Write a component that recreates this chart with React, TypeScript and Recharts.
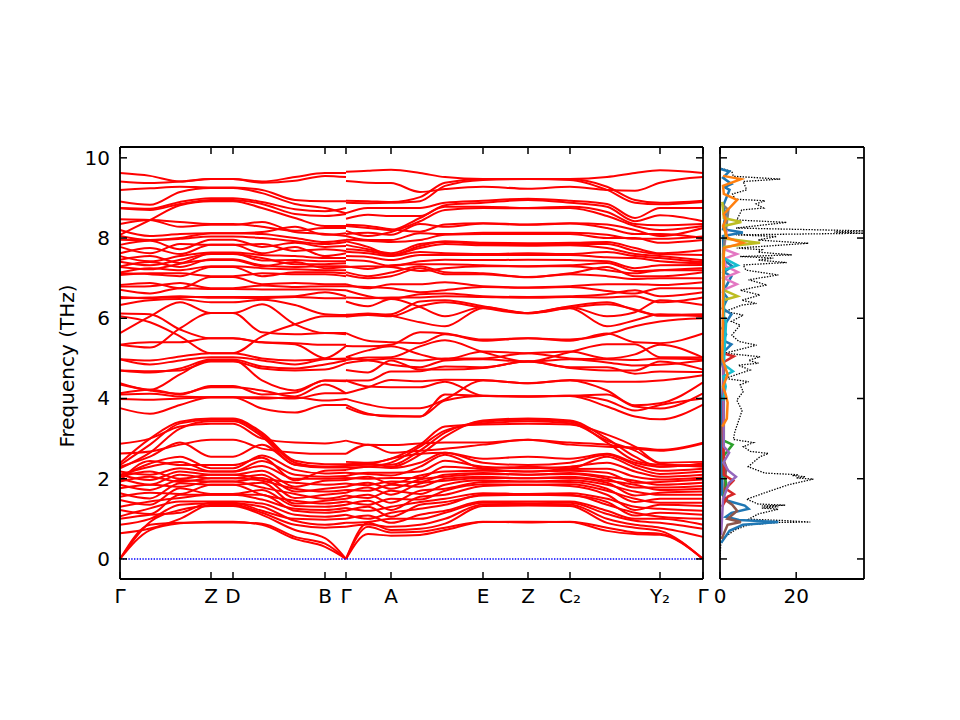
import React from "react";
import { LineChart, Line, XAxis, YAxis, ReferenceLine } from "recharts";

const pathTickPositions = [0, 91, 113, 205, 226, 271, 363, 408, 450, 540, 583];
const pathTickLabels = ["Γ", "Z", "D", "B", "Γ", "A", "E", "Z", "C₂", "Y₂", "Γ"];
const freqTicks = [0, 2, 4, 6, 8, 10];
const dosTicks = [0, 20];

const leftDistances = [0, 30, 60, 91, 113, 142, 175, 205, 226];
const rightDistances = [226, 248, 271, 300, 325, 363, 408, 450, 487, 515, 540, 583];

const leftUpperBands = [
  [9.62,9.55,9.41,9.47,9.47,9.41,9.52,9.62,9.62],
  [9.41,9.37,9.41,9.47,9.47,9.38,9.43,9.55,9.52],
  [9.20,9.24,9.28,9.26,9.26,9.20,8.95,8.92,8.92],
  [8.91,8.83,9.15,9.25,9.25,9.12,8.85,8.75,8.62],
  [8.75,8.73,8.90,8.99,8.99,8.90,8.72,8.67,8.75],
  [8.74,8.70,8.85,8.95,8.95,8.85,8.60,8.55,8.60],
  [8.08,8.45,8.82,8.92,8.92,8.75,8.50,8.30,8.30],
  [8.47,8.45,8.28,8.33,8.33,8.40,8.15,8.10,8.05],
  [8.35,8.45,8.40,8.35,8.35,8.28,8.18,8.25,8.25],
  [8.20,8.05,8.10,8.12,8.12,8.15,8.28,8.08,8.12],
  [8.05,7.95,8.00,8.12,8.12,8.10,8.00,7.90,7.95],
  [7.96,7.95,7.98,8.04,8.04,8.00,7.92,7.85,7.90],
  [7.83,7.93,7.72,7.96,7.96,7.78,7.88,7.78,7.80],
  [7.78,7.62,7.85,7.83,7.83,7.85,7.68,7.72,7.68],
  [7.62,7.75,7.60,7.83,7.83,7.62,7.78,7.55,7.62],
  [7.55,7.42,7.55,7.64,7.64,7.58,7.55,7.50,7.50],
  [7.46,7.55,7.38,7.62,7.62,7.44,7.45,7.42,7.42],
  [7.41,7.32,7.46,7.60,7.60,7.50,7.35,7.35,7.37],
  [7.29,7.40,7.28,7.47,7.47,7.32,7.28,7.30,7.30],
  [7.28,7.22,7.36,7.45,7.45,7.30,7.40,7.25,7.28],
  [7.14,7.25,7.20,7.30,7.30,7.25,7.22,7.20,7.20],
  [7.12,7.10,7.05,7.28,7.28,7.05,7.15,7.15,7.12],
  [7.08,7.12,7.12,7.05,7.05,7.12,7.10,7.10,7.05],
  [6.83,6.88,6.75,7.03,7.03,6.85,6.88,6.85,6.85],
  [6.79,6.80,6.88,6.75,6.75,6.82,6.78,6.80,6.80],
  [6.71,6.62,6.75,6.73,6.73,6.72,6.72,6.72,6.70],
  [6.53,6.50,6.53,6.53,6.53,6.53,6.55,6.65,6.55],
  [6.50,6.52,6.55,6.51,6.51,6.50,6.53,6.50,6.50],
  [6.33,6.45,6.48,6.40,6.40,6.46,6.33,6.10,6.08],
];

const leftMiddleBands = [
  [5.63,6.05,6.40,6.13,6.13,6.35,5.85,5.63,5.63],
  [6.12,6.10,5.72,5.50,5.50,5.40,5.35,5.00,4.98],
  [6.05,5.90,5.55,5.13,5.13,5.55,5.85,6.05,6.05],
  [5.34,5.27,5.75,6.13,6.13,5.65,5.60,5.63,5.60],
  [5.34,5.40,5.40,5.50,5.50,5.40,5.38,5.34,5.34],
  [4.98,4.95,5.05,5.13,5.13,5.00,4.95,5.00,5.31],
  [4.98,4.85,4.95,5.03,5.03,4.95,4.85,4.98,5.00],
  [4.70,4.65,4.75,4.97,4.97,4.80,4.75,4.85,4.95],
  [4.70,4.68,4.70,4.92,4.92,4.75,4.70,4.72,4.88],
  [4.38,4.22,4.60,4.96,4.96,4.45,4.20,4.45,4.45],
  [4.13,4.22,4.10,4.31,4.31,4.10,4.15,4.45,4.43],
  [4.35,4.20,4.12,4.28,4.28,4.20,4.05,4.35,4.13],
  [3.99,3.97,4.00,4.03,4.03,4.03,4.00,4.13,4.13],
  [4.10,4.12,4.05,4.03,4.03,4.00,4.03,3.95,3.99],
  [3.76,3.62,3.84,4.03,4.03,3.75,3.65,3.84,3.84],
];

const leftLowerBands = [
  [0,.72,.89,.93,.93,.85,.50,.30,0],
  [0,.85,.90,.91,.91,.88,.55,.38,0],
  [0,.92,1.22,1.32,1.32,1.10,.72,.52,0],
  [.64,.76,1.00,1.35,1.35,1.15,.85,.78,.80],
  [.85,1.00,1.35,1.38,1.38,1.30,.95,.85,.90],
  [1.00,1.10,1.15,1.40,1.40,1.20,1.00,.98,1.00],
  [1.06,1.26,1.43,1.43,1.43,1.38,1.10,1.05,1.10],
  [1.22,1.12,1.60,1.60,1.60,1.60,1.20,1.15,1.20],
  [1.30,1.43,1.52,1.60,1.60,1.48,1.25,1.22,1.27],
  [1.47,1.35,1.76,1.62,1.62,1.72,1.32,1.30,1.35],
  [1.55,1.65,1.62,1.85,1.85,1.60,1.45,1.38,1.43],
  [1.64,1.51,1.89,1.85,1.85,1.90,1.38,1.45,1.50],
  [1.76,1.85,1.80,1.93,1.93,1.78,1.62,1.50,1.58],
  [1.85,1.72,1.97,1.93,1.93,2.02,1.52,1.60,1.65],
  [1.93,2.05,1.92,2.01,2.01,1.95,1.75,1.68,1.72],
  [2.01,1.85,2.10,2.01,2.01,2.10,1.68,1.75,1.80],
  [2.05,2.18,2.00,2.10,2.10,2.00,1.90,1.85,1.88],
  [2.10,1.97,2.18,2.10,2.10,2.20,1.80,1.95,1.97],
  [2.18,2.10,2.26,2.18,2.18,2.32,2.00,2.00,2.02],
  [2.10,2.30,2.42,2.18,2.18,2.44,2.10,2.05,2.07],
  [2.05,2.38,2.55,2.26,2.26,2.58,2.22,2.13,2.15],
  [1.95,2.44,2.34,2.34,2.34,2.52,1.96,2.20,2.22],
  [2.39,3.00,3.42,3.50,3.50,3.15,2.45,2.36,2.36],
  [2.34,2.85,3.38,3.47,3.47,3.10,2.40,2.30,2.32],
  [2.26,2.65,3.25,3.43,3.43,3.05,2.35,2.28,2.28],
  [2.87,3.00,3.30,3.37,3.37,3.00,2.90,2.88,2.95],
  [2.63,2.68,2.85,2.97,2.97,2.75,2.65,2.62,2.62],
  [2.30,2.55,2.90,2.55,2.55,2.85,2.35,2.30,2.30],
];

const rightUpperBands = [
  [9.65,9.68,9.70,9.62,9.52,9.47,9.47,9.47,9.52,9.62,9.69,9.62],
  [9.42,9.38,9.37,9.15,9.22,9.28,9.23,9.28,9.20,9.18,9.38,9.52],
  [8.93,8.92,8.90,9.02,9.38,9.47,9.47,9.47,9.28,8.95,8.88,8.93],
  [8.88,8.87,8.88,8.92,9.30,9.45,9.47,9.45,9.20,8.88,8.84,8.90],
  [8.62,8.75,8.75,8.75,8.88,8.93,8.98,8.93,8.85,8.50,8.75,8.75],
  [8.48,8.58,8.55,8.55,8.82,8.88,8.95,8.88,8.78,8.42,8.57,8.42],
  [8.30,8.25,8.20,8.50,8.78,8.78,8.75,8.78,8.65,8.35,8.32,8.35],
  [8.18,8.05,8.15,8.42,8.70,8.75,8.74,8.75,8.55,8.30,8.20,8.30],
  [8.33,8.30,8.22,8.16,8.34,8.37,8.34,8.37,8.34,8.20,8.05,8.25],
  [8.10,8.13,8.08,8.35,8.28,8.36,8.33,8.36,8.25,8.10,8.10,8.00],
  [8.05,7.95,7.95,8.12,8.10,8.13,8.13,8.13,8.08,7.98,7.98,8.04],
  [7.96,7.93,7.90,7.95,8.08,8.10,8.10,8.10,8.00,8.00,7.88,7.95],
  [7.92,7.78,7.58,7.80,7.92,7.88,7.87,7.88,7.90,7.75,7.62,7.70],
  [7.83,7.72,7.62,7.85,7.90,7.85,7.85,7.85,7.85,7.68,7.60,7.58],
  [7.72,7.68,7.58,7.75,7.85,7.82,7.81,7.82,7.75,7.60,7.55,7.45],
  [7.66,7.62,7.55,7.65,7.62,7.60,7.62,7.60,7.65,7.55,7.50,7.40],
  [7.55,7.53,7.45,7.58,7.58,7.58,7.58,7.58,7.52,7.50,7.42,7.37],
  [7.45,7.42,7.30,7.42,7.46,7.45,7.46,7.45,7.42,7.25,7.32,7.33],
  [7.30,7.23,7.32,7.35,7.35,7.32,7.30,7.32,7.38,7.18,7.20,7.25],
  [7.28,7.30,7.28,7.18,7.25,7.30,7.29,7.30,7.20,7.12,7.20,7.20],
  [7.15,7.05,7.14,7.30,7.15,7.12,7.03,7.12,7.28,7.05,7.05,7.15],
  [7.08,7.00,7.05,7.25,7.10,7.10,7.02,7.10,7.05,6.98,7.00,7.00],
  [6.85,6.75,6.85,6.85,6.90,6.80,6.77,6.80,6.85,6.85,6.83,6.90],
  [6.80,6.78,6.75,6.65,6.70,6.78,6.76,6.78,6.68,6.62,6.75,6.75],
  [6.70,6.55,6.48,6.60,6.62,6.55,6.53,6.55,6.60,6.70,6.55,6.65],
  [6.52,6.50,6.52,6.52,6.55,6.53,6.51,6.53,6.52,6.55,6.40,6.52],
];

const rightMiddleBands = [
  [6.42,6.30,6.48,6.28,6.05,6.28,6.13,6.28,6.05,6.15,6.45,6.33],
  [6.09,6.08,6.10,6.42,6.45,6.30,6.13,6.30,6.40,6.20,6.08,6.10],
  [6.08,6.12,6.06,5.90,5.80,6.25,6.13,6.25,5.80,5.95,6.10,6.05],
  [6.04,6.08,6.05,6.30,6.40,6.26,6.12,6.26,6.35,6.22,6.06,6.08],
  [5.63,5.44,5.40,5.38,5.60,5.44,5.50,5.44,5.62,5.40,5.38,5.62],
  [5.31,5.30,5.34,5.65,5.62,5.47,5.50,5.47,5.60,5.80,5.92,6.00],
  [5.03,5.20,5.30,5.10,4.98,5.17,5.13,5.17,5.00,5.10,5.34,5.02],
  [4.96,5.02,5.03,5.30,5.45,5.16,4.92,5.16,5.35,5.35,5.03,5.02],
  [5.02,4.96,5.00,4.95,5.00,5.00,5.13,5.00,4.98,4.96,5.00,4.98],
  [4.88,4.95,4.84,4.78,4.95,4.98,4.92,4.98,4.90,4.82,4.84,4.95],
  [4.71,4.65,4.95,4.72,4.72,4.76,4.93,4.76,4.70,4.70,4.92,4.72],
  [4.45,4.45,4.67,4.68,4.80,4.78,4.92,4.78,4.78,4.62,4.67,4.66],
  [4.13,4.28,4.46,4.43,4.47,4.46,4.38,4.46,4.42,4.42,4.45,4.58],
  [4.45,4.30,4.28,4.28,4.42,4.07,4.05,4.07,4.10,3.80,3.75,4.13],
  [3.99,3.85,3.76,3.76,3.98,4.45,4.38,4.45,4.20,3.83,3.88,4.40],
  [3.84,3.62,3.55,3.55,4.10,4.07,4.05,4.07,3.95,3.70,3.84,4.00],
  [3.78,3.60,3.57,3.55,3.95,4.06,4.05,4.06,3.80,3.55,3.48,3.85],
];

const rightLowerBands = [
  [0,.62,.58,.60,.72,.92,.93,.92,.70,.62,.60,0],
  [0,.80,.66,.68,.78,.93,.91,.93,.78,.66,.63,0],
  [0,.90,.72,.75,.88,1.32,1.33,1.32,.90,.78,.70,0],
  [.80,.86,.80,.85,1.00,1.36,1.36,1.36,1.00,.85,.78,.55],
  [.90,.92,1.00,1.00,1.15,1.40,1.39,1.40,1.12,.95,.90,.75],
  [1.00,1.08,.90,1.10,1.20,1.43,1.43,1.43,1.20,1.00,1.00,.85],
  [1.10,1.00,1.15,1.25,1.35,1.60,1.60,1.60,1.35,1.15,1.05,1.00],
  [1.20,1.30,1.05,1.35,1.42,1.58,1.60,1.58,1.42,1.08,1.15,1.10],
  [1.27,1.20,1.30,1.42,1.50,1.64,1.62,1.64,1.50,1.30,1.25,1.20],
  [1.35,1.45,1.22,1.55,1.60,1.82,1.85,1.82,1.60,1.22,1.35,1.32],
  [1.43,1.35,1.50,1.48,1.70,1.86,1.85,1.86,1.70,1.50,1.40,1.40],
  [1.50,1.60,1.40,1.70,1.75,1.92,1.93,1.92,1.75,1.42,1.50,1.50],
  [1.58,1.52,1.70,1.62,1.85,1.96,1.93,1.96,1.85,1.68,1.60,1.60],
  [1.65,1.78,1.60,1.88,1.95,2.02,2.01,2.02,1.90,1.58,1.65,1.68],
  [1.72,1.70,1.85,1.80,2.00,2.05,2.01,2.05,1.95,1.85,1.72,1.75],
  [1.80,1.90,1.75,1.98,2.05,2.12,2.10,2.12,2.00,1.78,1.78,1.82],
  [1.88,1.84,1.93,1.92,2.10,2.14,2.10,2.14,2.05,1.95,1.85,1.90],
  [1.97,2.05,1.88,2.08,2.18,2.20,2.18,2.20,2.15,1.90,1.92,1.98],
  [2.02,2.00,2.02,2.02,2.30,2.24,2.18,2.24,2.25,2.05,1.98,2.03],
  [2.07,2.15,2.15,2.18,2.45,2.30,2.26,2.30,2.40,2.18,2.05,2.10],
  [2.15,2.12,2.08,2.30,2.60,2.26,2.30,2.26,2.55,2.28,2.12,2.18],
  [2.22,2.30,2.27,2.40,2.65,2.40,2.34,2.40,2.60,2.35,2.20,2.25],
  [2.36,2.38,2.30,2.60,3.05,3.45,3.50,3.45,3.00,2.55,2.30,2.38],
  [2.32,2.35,2.35,2.70,3.15,3.42,3.47,3.42,2.90,2.45,2.35,2.33],
  [2.28,2.30,2.40,2.80,3.20,3.38,3.43,3.38,2.95,2.70,2.38,2.30],
  [2.42,2.40,2.50,2.85,3.30,3.35,3.37,3.35,3.10,2.80,2.40,2.42],
  [2.62,2.85,2.65,2.70,2.75,2.85,2.97,2.85,2.80,2.78,2.72,2.90],
  [2.95,2.85,2.84,2.88,2.90,2.90,2.97,2.90,2.85,2.75,2.70,2.88],
  [2.35,2.36,2.50,2.62,2.65,2.50,2.55,2.50,2.62,2.40,2.30,2.36],
];

const totalDos = [
  [-0.02,0],[.2,.1],[.35,.2],[.52,.9],[.72,3.9],[.85,7.5],[.91,15.3],[.92,23.7],[.96,16.2],[.99,7.5],[1.12,10],[1.24,15.3],[1.27,11],[1.3,15.3],[1.32,11],[1.34,17.1],[1.37,10],[1.49,7],[1.55,8.8],[1.68,12.7],[1.85,18],[1.99,24.5],[2.02,20],[2.05,22.4],[2.08,19],[2.1,20.6],[2.14,11.8],[2.3,7.4],[2.55,10.5],[2.63,12.7],[2.68,8],[2.8,6.1],[2.9,8.8],[2.98,3.5],[3.17,3.9],[3.42,4.8],[3.7,5.8],[3.96,4.4],[4.17,6.1],[4.34,5.3],[4.42,7.5],[4.5,1.3],[4.71,7.9],[4.83,4.8],[4.88,10.1],[4.95,7.5],[5.04,10.5],[5.13,1.3],[5.33,9.6],[5.42,5],[5.58,3.1],[5.83,5.3],[5.92,3],[6.08,6.1],[6.17,1.3],[6.33,5.7],[6.37,9.6],[6.45,5.7],[6.58,10.5],[6.7,5.3],[6.83,12.3],[6.96,7.5],[7.08,15.3],[7.2,6.8],[7.33,6.1],[7.39,17.5],[7.45,10],[7.5,14],[7.54,5.3],[7.58,18.9],[7.65,10],[7.71,11],[7.75,4.4],[7.87,23.2],[7.95,10],[8.04,14.9],[8.08,4.2],[8.12,37.7],[8.15,30],[8.18,37.7],[8.25,4.2],[8.39,17.5],[8.45,4.4],[8.7,5.7],[8.75,11.4],[8.85,9.5],[8.93,11.8],[8.97,3.9],[9.1,3.3],[9.2,7],[9.41,6.1],[9.47,15.8],[9.54,3.5],[9.66,3.1],[9.74,.2],
];
const pdosBlue = [[.4,.3],[.7,2.5],[.85,6],[.92,15.3],[.97,5],[1.05,1.5],[1.15,3],[1.25,7.5],[1.33,6.5],[1.45,2],[1.6,.6],[3.9,.5],[4.7,1],[4.85,.6],[5.15,.8],[5.35,3],[5.45,.8],[5.6,1.6],[5.75,.6],[6.1,3],[6.25,.7],[6.5,2],[6.65,.8],[7.05,3],[7.15,1],[7.3,3.2],[7.45,1],[8.05,.8],[8.14,6],[8.22,.8],[8.6,1.5],[8.8,.8],[9.2,2.5],[9.27,1.2],[9.35,3],[9.5,.8],[9.66,2.4],[9.72,.2]];
const pdosOrange = [[3.3,.6],[3.5,1.8],[3.9,2],[4.1,1.5],[4.3,.8],[4.6,2],[5.0,.6],[7.5,1],[7.75,1],[7.88,6],[8.0,2],[8.3,.8],[8.45,1.5],[8.6,1],[8.95,4.5],[9.1,1],[9.3,.8],[9.47,5.5],[9.55,.8]];
const pdosGreen = [[1.55,.8],[1.7,1.5],[1.9,1.6],[2.1,1],[2.55,.8],[2.85,3.3],[2.95,1],[7.1,1],[7.4,1.4]];
const pdosRed = [[1.3,.5],[1.55,2],[1.62,3.6],[1.75,1.5],[1.95,3.5],[2.1,1],[4.9,.8],[5.05,3.6],[5.12,1]];
const pdosPurple = [[.6,.3],[1.5,.8],[1.9,2.4],[2.05,4.2],[2.2,2.2],[2.4,.9],[2.65,2.4],[2.8,1],[6.1,.8]];
const pdosBrown = [[.5,.4],[.85,2],[.92,5.5],[1.0,2],[1.2,4.5],[1.35,3.2],[1.5,1],[2.3,1.6],[2.45,1],[3.25,.6],[3.5,1]];
const pdosPink = [[6.2,.8],[6.7,.8],[6.85,4.4],[7.0,1],[7.15,4.7],[7.3,1.5],[7.48,1],[7.6,4.4],[7.72,1],[8.2,1.8]];
const pdosGray = [[4.9,.4],[5.6,1.1],[7.6,.8],[8.7,2.2],[8.85,.5]];
const pdosOlive = [[6.2,.8],[6.45,.8],[6.55,4.6],[6.7,1],[7.4,.8],[7.78,1.2],[7.88,10.5],[7.98,1.8],[8.3,1],[8.4,5.6],[8.5,1],[8.9,.6]];
const pdosCyan = [[3.95,.8],[4.3,1.5],[4.55,.9],[4.68,3.4],[4.85,1],[5.9,1.6],[6.05,1],[7.2,1],[7.32,4.6],[7.5,1]];

const partials: [string, string, number[][]][] = [
  ["blue", "#1f77b4", pdosBlue],
  ["brown", "#8c564b", pdosBrown],
  ["green", "#2ca02c", pdosGreen],
  ["red", "#d62728", pdosRed],
  ["purple", "#9467bd", pdosPurple],
  ["pink", "#e377c2", pdosPink],
  ["gray", "#7f7f7f", pdosGray],
  ["olive", "#bcbd22", pdosOlive],
  ["cyan", "#17becf", pdosCyan],
  ["orange", "#ff7f0e", pdosOrange],
];

const leftBands = [...leftUpperBands, ...leftMiddleBands, ...leftLowerBands];
const rightBands = [...rightUpperBands, ...rightMiddleBands, ...rightLowerBands];

const bandRows = Array.from(new Set([...leftDistances, ...rightDistances]))
  .sort((a, b) => a - b)
  .map((d) => {
    const row: Record<string, number> = { d };
    const li = leftDistances.indexOf(d);
    const ri = rightDistances.indexOf(d);
    if (li >= 0) leftBands.forEach((b, i) => { row[`L${i}`] = b[li]; });
    if (ri >= 0) rightBands.forEach((b, i) => { row[`R${i}`] = b[ri]; });
    return row;
  });

const dosMap = new Map<number, Record<string, number>>();
const putDos = (name: string, pts: number[][]) =>
  pts.forEach(([f, v]) => {
    if (!dosMap.has(f)) dosMap.set(f, { f });
    dosMap.get(f)![name] = v;
  });
putDos("total", totalDos);
partials.forEach(([n, , p]) => putDos(n, p));
const dosRows = Array.from(dosMap.values()).sort((a, b) => a.f - b.f);

const font = "'DejaVu Sans', sans-serif";
const TICK = 7;

const tickLine = (x1: number, y1: number, x2: number, y2: number) => (
  <line x1={x1} y1={y1} x2={x2} y2={y2} stroke="#000" strokeWidth={1.5} />
);
const bottomTick = (labels: Record<number, string>) => (p: any) => (
  <g>
    {tickLine(p.x, p.y, p.x, p.y - TICK)}
    <text x={p.x} y={p.y + 24} textAnchor="middle" fontSize={20} fontFamily={font} fill="#000">
      {labels[p.payload.value]}
    </text>
  </g>
);
const topTick = (p: any) => <g>{tickLine(p.x, p.y, p.x, p.y + TICK)}</g>;
const leftTick = (withLabel: boolean) => (p: any) => (
  <g>
    {tickLine(p.x, p.y, p.x + TICK, p.y)}
    {withLabel && (
      <text x={p.x - 10} y={p.y + 7} textAnchor="end" fontSize={20} fontFamily={font} fill="#000">
        {p.payload.value}
      </text>
    )}
  </g>
);
const rightTick = (p: any) => <g>{tickLine(p.x, p.y, p.x - TICK, p.y)}</g>;

const pathLabels: Record<number, string> = {};
pathTickPositions.forEach((t, i) => { pathLabels[t] = pathTickLabels[i]; });
const dosLabels: Record<number, string> = { 0: "0", 20: "20" };
const axisLine = { stroke: "#000", strokeWidth: 1.8 };
const freqDomain: [number, number] = [-0.5, 10.27];

export default function App() {
  return (
    <div style={{ position: "absolute", left: 0, top: 0, width: 960, height: 720, background: "#fff" }}>
      <div style={{ position: "absolute", left: 0, top: 0 }}>
        <LineChart width={960} height={720} data={bandRows} margin={{ left: 119, right: 256, top: 146, bottom: 140 }}>
          <XAxis xAxisId="b" dataKey="d" type="number" domain={[0, 583]} ticks={pathTickPositions} interval={0} height={1} tickSize={0} tickMargin={0} axisLine={axisLine} tickLine={false} tick={bottomTick(pathLabels)} />
          <XAxis xAxisId="t" orientation="top" dataKey="d" type="number" domain={[0, 583]} ticks={pathTickPositions} interval={0} height={1} tickSize={0} tickMargin={0} axisLine={axisLine} tickLine={false} tick={topTick} />
          <YAxis yAxisId="l" type="number" domain={freqDomain} allowDataOverflow ticks={freqTicks} interval={0} width={1} tickSize={0} tickMargin={0} axisLine={axisLine} tickLine={false} tick={leftTick(true)} />
          <YAxis yAxisId="r" orientation="right" type="number" domain={freqDomain} allowDataOverflow ticks={freqTicks} interval={0} width={1} tickSize={0} tickMargin={0} axisLine={axisLine} tickLine={false} tick={rightTick} />
          {leftBands.map((_, i) => (
            <Line key={`L${i}`} xAxisId="b" yAxisId="l" dataKey={`L${i}`} type="monotone" stroke="#ff0000" strokeWidth={2} dot={false} isAnimationActive={false} />
          ))}
          {rightBands.map((_, i) => (
            <Line key={`R${i}`} xAxisId="b" yAxisId="l" dataKey={`R${i}`} type="monotone" stroke="#ff0000" strokeWidth={2} dot={false} isAnimationActive={false} />
          ))}
          <ReferenceLine xAxisId="b" yAxisId="l" y={0} stroke="#0000ff" strokeWidth={1.4} strokeDasharray="1.4 1.4" />
          <text x={74} y={366} transform="rotate(-90 74 366)" textAnchor="middle" fontSize={20} fontFamily={font} fill="#000">
            Frequency (THz)
          </text>
        </LineChart>
      </div>
      <div style={{ position: "absolute", left: 0, top: 0 }}>
        <LineChart layout="vertical" width={960} height={720} data={dosRows} margin={{ left: 719, right: 95, top: 146, bottom: 140 }}>
          <XAxis xAxisId="b" type="number" domain={[0, 37.8]} allowDataOverflow ticks={dosTicks} interval={0} height={1} tickSize={0} tickMargin={0} axisLine={axisLine} tickLine={false} tick={bottomTick(dosLabels)} />
          <XAxis xAxisId="t" orientation="top" type="number" domain={[0, 37.8]} allowDataOverflow ticks={dosTicks} interval={0} height={1} tickSize={0} tickMargin={0} axisLine={axisLine} tickLine={false} tick={topTick} />
          <YAxis yAxisId="l" dataKey="f" type="number" reversed domain={freqDomain} allowDataOverflow ticks={freqTicks} interval={0} width={1} tickSize={0} tickMargin={0} axisLine={axisLine} tickLine={false} tick={leftTick(false)} />
          <YAxis yAxisId="r" orientation="right" dataKey="f" type="number" reversed domain={freqDomain} allowDataOverflow ticks={freqTicks} interval={0} width={1} tickSize={0} tickMargin={0} axisLine={axisLine} tickLine={false} tick={rightTick} />
          <Line xAxisId="b" yAxisId="l" dataKey="total" type="linear" connectNulls stroke="#000" strokeWidth={1.3} strokeDasharray="1.4 1.4" dot={false} isAnimationActive={false} />
          {partials.map(([n, c]) => (
            <Line key={n} xAxisId="b" yAxisId="l" dataKey={n} type="linear" connectNulls stroke={c} strokeWidth={2.5} dot={false} isAnimationActive={false} />
          ))}
        </LineChart>
      </div>
    </div>
  );
}
